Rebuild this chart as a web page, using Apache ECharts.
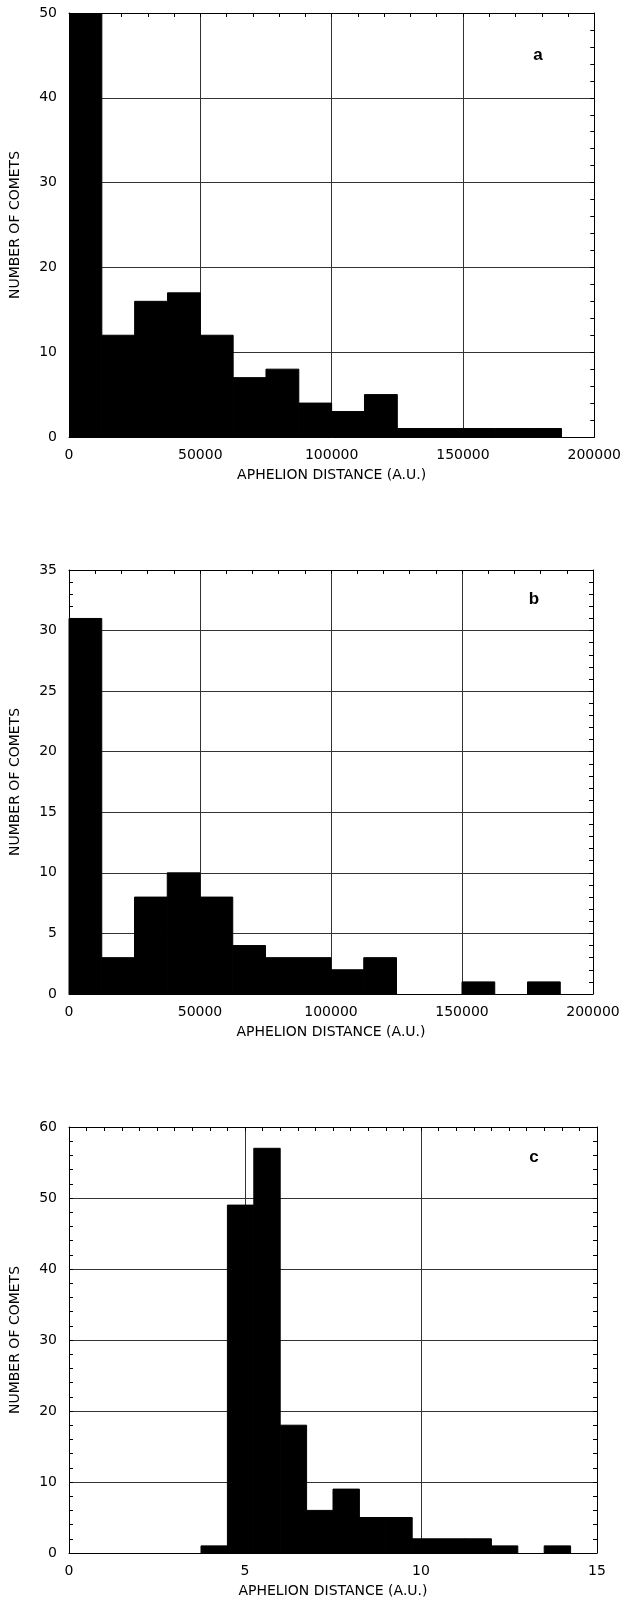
<!DOCTYPE html>
<html>
<head>
<meta charset="utf-8">
<script src="https://cdn.jsdelivr.net/npm/echarts@6/dist/echarts.min.js"></script>
<style>
html,body{margin:0;padding:0;background:#fff;}
#chart{width:624px;height:1602px;}
</style>
</head>
<body>
<div id="chart"></div>
<script>
// ---- Data ----
const xAxisName = 'APHELION DISTANCE (A.U.)';
const yAxisName = 'NUMBER OF COMETS';
const panelLabels = ['a', 'b', 'c'];

// Panel a: bin edges and counts
const edgesA = [0, 12500, 25000, 37500, 50000, 62500, 75000, 87500, 100000, 112500, 125000, 137500, 150000, 162500, 175000, 187500];
const countsA = [50, 12, 16, 17, 12, 7, 8, 4, 3, 5, 1, 1, 1, 1, 1];
const xTicksAB = [0, 50000, 100000, 150000, 200000];
const yTicksA = [0, 10, 20, 30, 40, 50];

// Panel b
const edgesB = [0, 12500, 25000, 37500, 50000, 62500, 75000, 87500, 100000, 112500, 125000, 137500, 150000, 162500, 175000, 187500];
const countsB = [31, 3, 8, 10, 8, 4, 3, 3, 2, 3, 0, 0, 1, 0, 1];
const yTicksB = [0, 5, 10, 15, 20, 25, 30, 35];

// Panel c
const edgesC = [3.75, 4.5, 5.25, 6, 6.75, 7.5, 8.25, 9, 9.75, 10.5, 11.25, 12, 12.75, 13.5, 14.25];
const countsC = [1, 49, 57, 18, 6, 9, 5, 5, 2, 2, 2, 1, 0, 1];
const xTicksC = [0, 5, 10, 15];
const yTicksC = [0, 10, 20, 30, 40, 50, 60];

function binData(edges, counts) {
  return counts.map((c, i) => [edges[i], edges[i + 1], c]);
}

const panels = [
  {edges: edgesA, counts: countsA, xt: xTicksAB, yt: yTicksA, grid: {left: 69, top: 13, width: 527, height: 424}, label: {x: 538, y: 55}},
  {edges: edgesB, counts: countsB, xt: xTicksAB, yt: yTicksB, grid: {left: 64, top: 570, width: 529, height: 424}, label: {x: 534, y: 599}},
  {edges: edgesC, counts: countsC, xt: xTicksC, yt: yTicksC, grid: {left: 69, top: 1127, width: 528, height: 426}, label: {x: 534, y: 1157}}
];

const FONT = 'DejaVu Sans';
const plain = (v) => String(v);
const grids = [], xAxes = [], yAxes = [], series = [], graphics = [];

panels.forEach((p, k) => {
  grids.push(Object.assign({containLabel: false}, p.grid));
  const xMin = p.xt[0], xMax = p.xt[p.xt.length - 1], xInt = p.xt[1] - p.xt[0];
  const yMin = p.yt[0], yMax = p.yt[p.yt.length - 1], yInt = p.yt[1] - p.yt[0];
  const xMinorSplit = (k === 2) ? 10 : 5;
  const axisLine = {show: true, onZero: false, lineStyle: {color: '#000', width: 1}};
  const minor = (n) => ({show: true, splitNumber: n, length: 4, lineStyle: {color: '#000', width: 1}});
  // bottom x
  xAxes.push({
    type: 'value', gridIndex: k, position: 'bottom', min: xMin, max: xMax, interval: xInt,
    axisLine: axisLine,
    axisTick: {show: false},
    axisLabel: {color: '#000', fontFamily: FONT, fontSize: 14, margin: 11, formatter: plain, showMinLabel: true, showMaxLabel: true},
    splitLine: {show: true, lineStyle: {color: '#333', width: 1}},
    name: xAxisName, nameLocation: 'middle', nameGap: 31,
    nameTextStyle: {color: '#000', fontFamily: FONT, fontSize: 14}
  });
  // top x
  xAxes.push({
    type: 'value', gridIndex: k, position: 'top', min: xMin, max: xMax, interval: xInt,
    axisLine: axisLine,
    axisTick: {show: true, inside: true, length: 4, lineStyle: {color: '#000'}},
    minorTick: minor(xMinorSplit),
    axisLabel: {show: false},
    splitLine: {show: false}
  });
  // left y
  yAxes.push({
    type: 'value', gridIndex: k, position: 'left', min: yMin, max: yMax, interval: yInt,
    axisLine: axisLine,
    axisTick: {show: true, inside: true, length: 4, lineStyle: {color: '#000'}},
    minorTick: minor(5),
    axisLabel: {color: '#000', fontFamily: FONT, fontSize: 14, margin: 12, formatter: plain},
    splitLine: {show: true, lineStyle: {color: '#333', width: 1}},
    name: yAxisName, nameLocation: 'middle', nameGap: 47, nameRotate: 90,
    nameTextStyle: {color: '#000', fontFamily: FONT, fontSize: 14}
  });
  // right y
  yAxes.push({
    type: 'value', gridIndex: k, position: 'right', min: yMin, max: yMax, interval: yInt,
    axisLine: axisLine,
    axisTick: {show: true, inside: true, length: 4, lineStyle: {color: '#000'}},
    minorTick: minor(5),
    axisLabel: {show: false},
    splitLine: {show: false}
  });
  series.push({
    type: 'custom',
    xAxisIndex: 2 * k, yAxisIndex: 2 * k,
    clip: true,
    z: 5,
    data: binData(p.edges, p.counts),
    encode: {x: [0, 1], y: 2},
    renderItem: function (params, api) {
      const x0 = api.value(0), x1 = api.value(1), v = api.value(2);
      if (!v) return null;
      const a = api.coord([x0, v]);
      const b = api.coord([x1, 0]);
      return {
        type: 'rect',
        shape: {x: a[0], y: a[1], width: b[0] - a[0], height: b[1] - a[1]},
        style: {fill: '#000', stroke: '#000', lineWidth: 1}
      };
    }
  });
  graphics.push({
    type: 'text', x: p.label.x, y: p.label.y, z: 10,
    style: {text: panelLabels[k], fill: '#000', font: 'bold 17px "Liberation Sans"', textAlign: 'center', textVerticalAlign: 'middle'}
  });
});

const chart = echarts.init(document.getElementById('chart'), null, {renderer: 'canvas'});
chart.setOption({
  animation: false,
  backgroundColor: '#fff',
  grid: grids,
  xAxis: xAxes,
  yAxis: yAxes,
  series: series,
  graphic: graphics
});
</script>
</body>
</html>
